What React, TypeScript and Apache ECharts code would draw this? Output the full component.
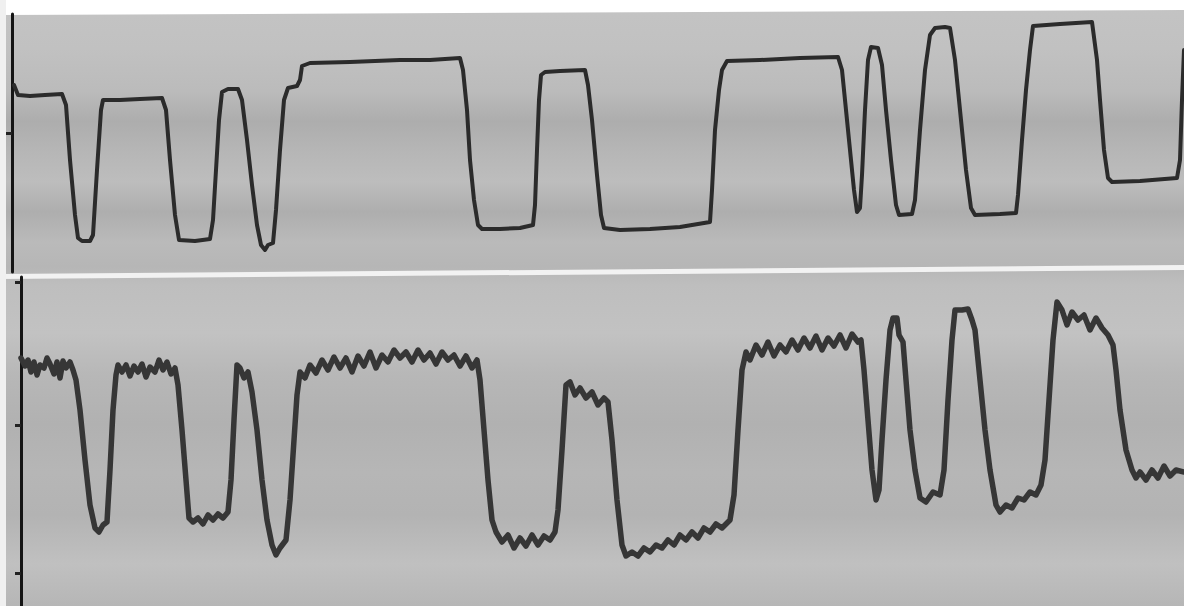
import React, { useEffect, useRef } from "react";
import * as echarts from "echarts";

// Upper trace (chart-recorder pen 1): [time, level]
const upperTrace: [number, number][] = [
  [14, 187], [18, 177], [30, 176], [45, 177], [62, 178], [66, 167], [70, 112], [75, 57], [78, 34], [82, 31],
  [90, 31], [93, 37], [97, 102], [101, 162], [103, 172], [120, 172], [140, 173], [162, 174], [166, 162], [170, 112],
  [175, 57], [179, 32], [195, 31], [210, 33], [213, 52], [216, 102], [219, 152], [222, 180], [228, 183], [238, 183],
  [242, 172], [247, 132], [252, 87], [257, 47], [261, 27], [265, 22], [268, 27], [273, 29], [276, 62], [280, 122],
  [284, 172], [288, 184], [297, 186], [300, 192], [302, 206], [310, 209], [350, 210], [400, 212], [430, 212], [460, 214],
  [463, 202], [467, 162], [470, 112], [474, 72], [478, 47], [482, 43], [500, 43], [520, 44], [533, 47], [535, 67],
  [537, 122], [539, 172], [541, 197], [545, 200], [560, 201], [585, 202], [588, 187], [592, 152], [597, 97], [601, 57],
  [604, 44], [620, 42], [650, 43], [680, 45], [710, 50], [712, 82], [715, 142], [719, 182], [722, 202], [727, 211],
  [760, 212], [800, 214], [838, 215], [842, 202], [846, 162], [850, 122], [854, 82], [857, 60], [860, 64], [862, 97],
  [865, 162], [868, 212], [871, 225], [878, 224], [882, 207], [886, 162], [891, 112], [896, 67], [899, 57], [912, 58],
  [915, 72], [920, 142], [925, 202], [930, 237], [935, 244], [945, 245], [950, 244], [955, 212], [960, 162], [966, 102],
  [971, 64], [975, 57], [1000, 58], [1016, 59], [1018, 77], [1022, 132], [1026, 182], [1030, 222], [1033, 246], [1060, 248],
  [1092, 250], [1097, 212], [1100, 172], [1104, 122], [1108, 94], [1112, 90], [1140, 91], [1177, 94], [1180, 112], [1182, 172],
  [1184, 222],
];

// Lower trace (chart-recorder pen 2, noisy): [time, level]
const lowerTrace: [number, number][] = [
  [21, 248], [25, 240], [28, 246], [31, 234], [34, 244], [37, 231], [40, 241], [44, 238], [47, 248], [50, 242],
  [54, 232], [57, 244], [60, 228], [63, 245], [66, 238], [70, 244], [73, 236], [76, 226], [80, 196], [85, 146],
  [90, 101], [95, 78], [99, 74], [103, 81], [107, 84], [110, 136], [113, 196], [116, 231], [118, 241], [122, 234],
  [126, 241], [130, 230], [134, 240], [138, 234], [142, 242], [146, 229], [150, 239], [155, 234], [159, 246], [163, 236],
  [167, 244], [171, 232], [175, 238], [178, 221], [182, 176], [186, 126], [189, 88], [193, 84], [198, 88], [203, 82],
  [208, 91], [213, 86], [218, 92], [223, 88], [228, 94], [231, 126], [234, 186], [237, 241], [240, 238], [244, 228],
  [248, 234], [252, 214], [257, 176], [262, 126], [267, 86], [272, 61], [276, 51], [280, 58], [286, 66], [290, 106],
  [294, 166], [297, 211], [300, 234], [305, 228], [310, 241], [316, 233], [322, 246], [328, 236], [334, 249], [340, 238],
  [346, 248], [352, 234], [358, 250], [364, 240], [370, 254], [376, 238], [382, 251], [388, 244], [394, 256], [400, 248],
  [406, 254], [412, 244], [418, 256], [424, 246], [430, 253], [436, 242], [442, 254], [448, 246], [454, 251], [460, 240],
  [466, 250], [472, 238], [477, 246], [480, 226], [484, 176], [488, 126], [492, 86], [496, 74], [502, 64], [508, 71],
  [514, 58], [520, 68], [526, 60], [532, 71], [538, 61], [544, 70], [550, 66], [555, 74], [558, 96], [562, 156],
  [566, 221], [570, 224], [575, 211], [580, 218], [586, 208], [592, 214], [598, 201], [604, 208], [608, 204], [612, 166],
  [617, 106], [622, 61], [626, 50], [632, 54], [638, 50], [644, 58], [650, 54], [656, 61], [662, 58], [668, 66],
  [674, 61], [680, 71], [686, 66], [692, 74], [698, 68], [704, 78], [710, 74], [716, 82], [722, 78], [730, 86],
  [734, 111], [738, 176], [742, 236], [746, 254], [750, 246], [756, 261], [762, 251], [768, 264], [774, 250], [780, 261],
  [786, 254], [792, 266], [798, 256], [804, 268], [810, 258], [816, 270], [822, 256], [828, 268], [834, 260], [840, 271],
  [846, 258], [852, 272], [858, 264], [861, 266], [864, 236], [868, 186], [872, 136], [876, 106], [879, 116], [882, 166],
  [886, 226], [890, 276], [893, 288], [897, 288], [899, 271], [903, 264], [906, 226], [910, 176], [915, 136], [920, 108],
  [926, 104], [933, 114], [940, 111], [944, 136], [948, 206], [952, 266], [955, 296], [962, 296], [968, 297], [972, 286],
  [975, 276], [980, 226], [985, 176], [990, 136], [996, 101], [1000, 94], [1006, 101], [1012, 98], [1018, 108], [1024, 106],
  [1030, 114], [1036, 111], [1041, 121], [1045, 146], [1049, 206], [1053, 266], [1057, 304], [1062, 296], [1067, 281], [1072, 294],
  [1078, 286], [1084, 291], [1090, 276], [1096, 288], [1102, 278], [1108, 271], [1113, 261], [1116, 236], [1120, 196], [1126, 156],
  [1132, 136], [1136, 128], [1140, 134], [1146, 126], [1152, 136], [1158, 128], [1164, 140], [1170, 130], [1176, 136], [1184, 134],
];

// Axis ranges and the small reference ticks on each pen's baseline
const upperRange = { tMin: 12, tMax: 1184, yMin: 0, yMax: 258 };
const lowerRange = { tMin: 21, tMax: 1184, yMin: 0, yMax: 329 };
const upperTicks = [139];
const lowerTicks = [33, 181, 324];

export default function App() {
  const ref = useRef<HTMLDivElement>(null);

  useEffect(() => {
    document.body.style.margin = "0";
    if (!ref.current) return;
    const chart = echarts.init(ref.current, undefined, { renderer: "svg" });

    const axisCommon = (ticks: number[]) => ({
      type: "value" as const,
      axisLine: { show: true, lineStyle: { color: "#151515", width: 3 } },
      axisTick: {
        show: true,
        customValues: ticks,
        length: 6,
        inside: false,
        lineStyle: { color: "#222", width: 3 },
      },
      axisLabel: { show: false },
      splitLine: { show: false },
    });

    const bg = new echarts.graphic.LinearGradient(0, 0, 0, 1, [
      { offset: 0.0, color: "#c4c4c4" },
      { offset: 0.08, color: "#c1c1c1" },
      { offset: 0.15, color: "#bbbbbb" },
      { offset: 0.2, color: "#adadad" },
      { offset: 0.25, color: "#b6b6b6" },
      { offset: 0.3, color: "#bdbdbd" },
      { offset: 0.35, color: "#aeaeae" },
      { offset: 0.4, color: "#bababa" },
      { offset: 0.44, color: "#b6b6b6" },
      { offset: 0.47, color: "#bebebe" },
      { offset: 0.55, color: "#c2c2c2" },
      { offset: 0.62, color: "#b7b7b7" },
      { offset: 0.7, color: "#b1b1b1" },
      { offset: 0.78, color: "#b6b6b6" },
      { offset: 0.85, color: "#b3b3b3" },
      { offset: 0.93, color: "#c0c0c0" },
      { offset: 1.0, color: "#b6b6b6" },
    ]);

    chart.setOption({
      animation: false,
      backgroundColor: "#ffffff",
      graphic: [
        { type: "rect", z: -20, shape: { x: 0, y: 0, width: 1184, height: 606 }, style: { fill: bg } },
        { type: "polygon", z: -10, shape: { points: [[0, 0], [1184, 0], [1184, 10], [0, 15]] }, style: { fill: "#ffffff" } },
        { type: "polygon", z: -10, shape: { points: [[0, 274], [1184, 265], [1184, 270], [0, 279]] }, style: { fill: "#f2f2f2" } },
        { type: "rect", z: -10, shape: { x: 0, y: 0, width: 6, height: 606 }, style: { fill: "#f0f0f0" } },
      ],
      grid: [
        { left: 12, right: 0, top: 14, height: 258 },
        { left: 21, right: 0, top: 277, height: 329 },
      ],
      xAxis: [
        { type: "value", gridIndex: 0, min: upperRange.tMin, max: upperRange.tMax, show: false },
        { type: "value", gridIndex: 1, min: lowerRange.tMin, max: lowerRange.tMax, show: false },
      ],
      yAxis: [
        { ...axisCommon(upperTicks), gridIndex: 0, min: upperRange.yMin, max: upperRange.yMax },
        { ...axisCommon(lowerTicks), gridIndex: 1, min: lowerRange.yMin, max: lowerRange.yMax },
      ],
      series: [
        {
          type: "line",
          xAxisIndex: 0,
          yAxisIndex: 0,
          data: upperTrace,
          showSymbol: false,
          lineStyle: { color: "#2b2b2b", width: 4, join: "round", cap: "round" },
        },
        {
          type: "line",
          xAxisIndex: 1,
          yAxisIndex: 1,
          data: lowerTrace,
          showSymbol: false,
          lineStyle: { color: "#363636", width: 5.5, join: "round", cap: "round" },
        },
      ],
    });

    return () => chart.dispose();
  }, []);

  return <div ref={ref} style={{ width: 1184, height: 606 }} />;
}
